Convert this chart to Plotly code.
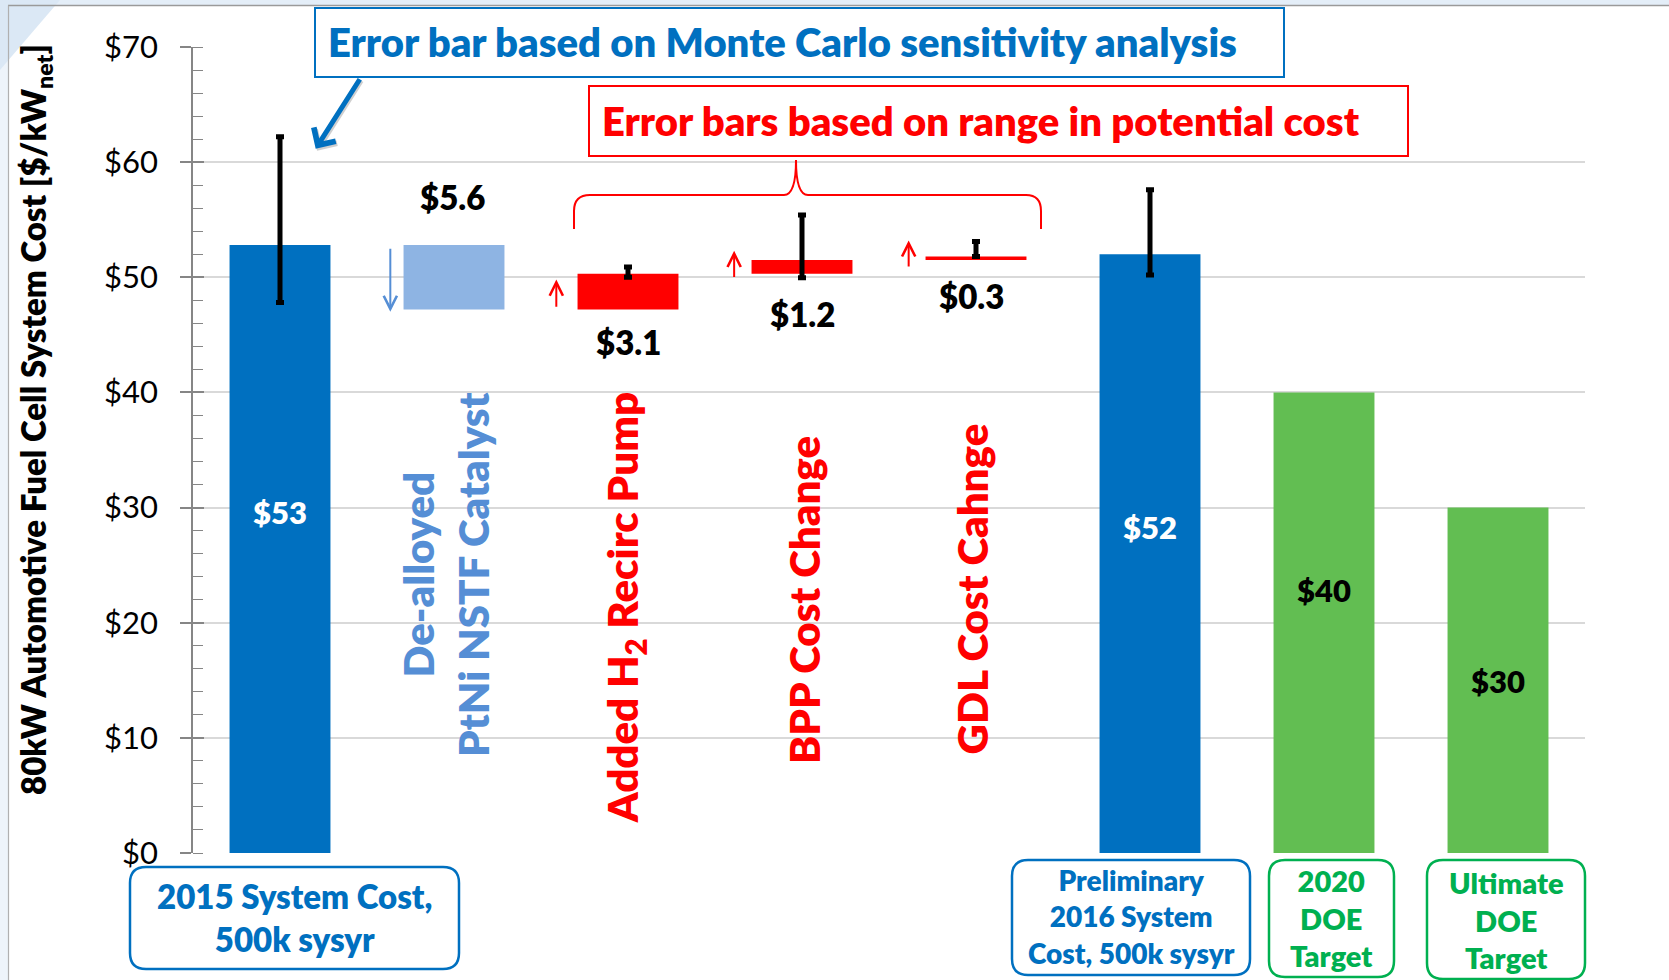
import plotly.graph_objects as go

# ---------------- data ----------------
categories = [
    "2015 System Cost, 500k sysyr",
    "De-alloyed PtNi NSTF Catalyst",
    "Added H2 Recirc Pump",
    "BPP Cost Change",
    "GDL Cost Cahnge",
    "Preliminary 2016 System Cost, 500k sysyr",
    "2020 DOE Target",
    "Ultimate DOE Target",
]
start_cost = 52.8
change_values = [-5.6, 3.1, 1.2, 0.3]
change_labels = ["$5.6", "$3.1", "$1.2", "$0.3"]
end_cost = 52.0
target_values = [40, 30]
total_labels = ["$53", "$52", "$40", "$30"]
err_index = [0, 2, 3, 4, 5]
err_low = [47.8, 50.0, 49.95, 51.8, 50.2]
err_high = [62.2, 50.9, 55.4, 53.1, 57.6]
y_ticks = [0, 10, 20, 30, 40, 50, 60, 70]
y_tick_text = ["$0", "$10", "$20", "$30", "$40", "$50", "$60", "$70"]

# ---------------- waterfall geometry from data ----------------
heights, bases = [start_cost], [0]
running = start_cost
for c in change_values:
    if c < 0:
        bases.append(running + c)
        heights.append(-c)
    else:
        bases.append(running)
        heights.append(c)
    running += c
heights += [end_cost] + target_values
bases += [0, 0, 0]
xs = list(range(len(categories)))

BLUE = "#0070C0"
LBLUE = "#8EB4E3"
LBLUE_TXT = "#558ED5"
RED = "#FF0000"
GREEN = "#62BE52"
GREEN_TXT = "#00B050"
colors = [BLUE, LBLUE, RED, RED, RED, BLUE, GREEN, GREEN]
FONT = "Lato"
WEIGHT = 800

fig = go.Figure()
fig.add_trace(go.Bar(x=xs, y=heights, base=bases, width=0.58,
                     marker=dict(color=colors, line=dict(width=0)),
                     hovertext=categories, showlegend=False))

fig.add_trace(go.Scatter(
    x=err_index, y=err_low, mode="markers",
    marker=dict(size=2, opacity=0),
    error_y=dict(type="data", symmetric=False,
                 array=[h - l for h, l in zip(err_high, err_low)],
                 arrayminus=[0] * len(err_low),
                 color="black", thickness=5, width=4),
    showlegend=False))

# invisible trace for the overlay axis (inside half of the major ticks)
fig.add_trace(go.Scatter(x=[0], y=[0], yaxis="y2", mode="markers",
                         marker=dict(opacity=0), showlegend=False, hoverinfo="skip"))

# ---------------- layout helpers (pixel -> paper) ----------------
FW, FH = 1669, 980
L, T, W, H = 193, 47, 1392, 806
def px(x):
    return (x - L) / W
def py(y):
    return (T + H - y) / H
def pt(x, y):
    return f"{px(x):.5f},{py(y):.5f}"

def rrect(x0, y0, x1, y1, r):
    return ("M" + pt(x0 + r, y0) + " L" + pt(x1 - r, y0) +
            " Q" + pt(x1, y0) + " " + pt(x1, y0 + r) +
            " L" + pt(x1, y1 - r) + " Q" + pt(x1, y1) + " " + pt(x1 - r, y1) +
            " L" + pt(x0 + r, y1) + " Q" + pt(x0, y1) + " " + pt(x0, y1 - r) +
            " L" + pt(x0, y0 + r) + " Q" + pt(x0, y0) + " " + pt(x0 + r, y0) + " Z")

shapes = []
# slide frame decoration
shapes.append(dict(type="rect", xref="paper", yref="paper", x0=px(0), x1=px(FW), y0=py(0), y1=py(5),
                   fillcolor="#e4eef8", line=dict(width=0), layer="below"))
shapes.append(dict(type="rect", xref="paper", yref="paper", x0=px(0), x1=px(8), y0=py(0), y1=py(FH),
                   fillcolor="#eef4fa", line=dict(width=0), layer="below"))
shapes.append(dict(type="path", xref="paper", yref="paper",
                   path="M" + pt(0, 0) + " L" + pt(60, 0) + " L" + pt(0, 70) + " Z",
                   fillcolor="#dbe8f5", line=dict(width=0), layer="below"))
shapes.append(dict(type="line", xref="paper", yref="paper", x0=px(8), x1=px(FW), y0=py(5.5), y1=py(5.5),
                   line=dict(color="#9a9a9a", width=1.5)))
shapes.append(dict(type="line", xref="paper", yref="paper", x0=px(8.5), x1=px(8.5), y0=py(5.5), y1=py(FH),
                   line=dict(color="#b0b0b0", width=1.2)))

# top boxes
shapes.append(dict(type="rect", xref="paper", yref="paper", x0=px(315), x1=px(1284), y0=py(8), y1=py(77),
                   fillcolor="white", line=dict(color=BLUE, width=2)))
shapes.append(dict(type="rect", xref="paper", yref="paper", x0=px(589), x1=px(1408), y0=py(86), y1=py(156),
                   fillcolor="white", line=dict(color=RED, width=2)))

# curly brace
brace = ("M" + pt(574, 229) + " L" + pt(574, 211) + " Q" + pt(574, 195) + " " + pt(590, 195) +
         " L" + pt(784, 195) + " Q" + pt(796, 195) + " " + pt(796, 160) +
         " Q" + pt(796, 195) + " " + pt(808, 195) +
         " L" + pt(1026, 195) + " Q" + pt(1041, 195) + " " + pt(1041, 211) + " L" + pt(1041, 229))
shapes.append(dict(type="path", xref="paper", yref="paper", path=brace,
                   line=dict(color=RED, width=2)))

# bottom rounded boxes
shapes.append(dict(type="path", xref="paper", yref="paper", path=rrect(130, 867, 459, 969, 16),
                   line=dict(color=BLUE, width=2.5)))
shapes.append(dict(type="path", xref="paper", yref="paper", path=rrect(1012, 860, 1250, 975, 16),
                   line=dict(color=BLUE, width=2.5)))
shapes.append(dict(type="path", xref="paper", yref="paper", path=rrect(1269, 860, 1394, 977, 16),
                   line=dict(color=GREEN_TXT, width=2.5)))
shapes.append(dict(type="path", xref="paper", yref="paper", path=rrect(1427, 860, 1585, 979, 16),
                   line=dict(color=GREEN_TXT, width=2.5)))

ann = []
def txt(x, y, text, size, color, xref="x", yref="y", angle=0, **kw):
    ann.append(dict(x=x, y=y, xref=xref, yref=yref, text=text, showarrow=False,
                    textangle=angle, xanchor="center", yanchor="middle",
                    font=dict(family=FONT, size=size, color=color, weight=WEIGHT), **kw))

# y axis title
txt(px(35), py(420), "80kW Automotive Fuel Cell System Cost [$/kW<sub>net</sub>]", 33, "black",
    xref="paper", yref="paper", angle=-90)

# box texts
txt(px(782), py(42), "Error bar based on Monte Carlo sensitivity analysis", 40, BLUE,
    xref="paper", yref="paper")
txt(px(981), py(121), "Error bars based on range in potential cost", 40, RED,
    xref="paper", yref="paper")

# totals inside bars
txt(0, 29.6, total_labels[0], 31, "white")
txt(5, 28.3, total_labels[1], 31, "white")
txt(6, 22.8, total_labels[2], 31, "black")
txt(7, 14.9, total_labels[3], 31, "black")

# change labels
txt(0.99, 57.0, change_labels[0], 33, "black")
txt(2.0, 44.4, change_labels[1], 33, "black")
txt(3.0, 46.8, change_labels[2], 33, "black")
txt(3.975, 48.4, change_labels[3], 33, "black")

# rotated category labels
txt(0.952, 24.2, "De-alloyed<br>PtNi NSTF Catalyst", 42, LBLUE_TXT, angle=-90)
txt(1.98, 21.3, "Added H<sub>2</sub> Recirc Pump", 42, RED, angle=-90)
txt(3.007, 22.0, "BPP Cost Change", 42, RED, angle=-90)
txt(3.975, 22.95, "GDL Cost Cahnge", 42, RED, angle=-90)

# bottom box texts
txt(px(294.5), py(917), "2015 System Cost,<br>500k sysyr", 33, BLUE, xref="paper", yref="paper")
txt(px(1131), py(916), "Preliminary<br>2016 System<br>Cost, 500k sysyr", 28, BLUE,
    xref="paper", yref="paper")
txt(px(1331.5), py(918), "2020<br>DOE<br>Target", 29, GREEN_TXT, xref="paper", yref="paper")
txt(px(1506), py(920), "Ultimate<br>DOE<br>Target", 29, GREEN_TXT, xref="paper", yref="paper")

# arrows
def arrow(x, y_tail, y_head, color, width=2, head=5, size=1.3, x_tail=None):
    ann.append(dict(x=x, y=y_head, ax=x if x_tail is None else x_tail, ay=y_tail,
                    xref="x", yref="y", axref="x", ayref="y", text="", showarrow=True,
                    arrowhead=head, arrowsize=size, arrowwidth=width, arrowcolor=color))

# shadow + big blue arrow from the Monte Carlo box
arrow(0.213, 67.2, 61.0, "rgba(120,120,120,0.35)", width=5, head=4, size=1.0, x_tail=0.472)
arrow(0.205, 67.33, 61.17, BLUE, width=5, head=4, size=1.0, x_tail=0.464)
arrow(0.634, 52.6, 47.0, LBLUE_TXT)
arrow(1.588, 47.3, 49.8, RED)
arrow(2.610, 49.9, 52.3, RED)
arrow(3.613, 50.8, 53.2, RED)

fig.update_layout(
    width=FW, height=FH,
    margin=dict(l=L, r=FW - L - W, t=T, b=FH - T - H),
    paper_bgcolor="white", plot_bgcolor="white",
    bargap=0.42,
    xaxis=dict(range=[-0.5, 7.5], showgrid=False, zeroline=False, showticklabels=False,
               ticks="", showline=False, fixedrange=True),
    yaxis=dict(range=[0, 70], tickvals=y_ticks, ticktext=y_tick_text,
               showgrid=True, gridcolor="#d9d9d9", gridwidth=1.5,
               zeroline=False, showline=True, linecolor="#868686", linewidth=1.5,
               ticks="outside", ticklen=11, tickcolor="#868686", tickwidth=1.5,
               ticklabelstandoff=16,
               tickfont=dict(family=FONT, size=31, color="black"),
               minor=dict(dtick=2, ticks="inside", ticklen=10, tickcolor="#868686",
                          tickwidth=1.2, showgrid=False)),
    yaxis2=dict(range=[0, 70], overlaying="y", side="left", anchor="x",
                tickvals=y_ticks, ticks="inside", ticklen=11, tickcolor="#868686",
                tickwidth=1.5, showticklabels=False, showgrid=False, zeroline=False,
                showline=False),
    shapes=shapes,
    annotations=ann,
    font=dict(family=FONT),
)

fig.write_html("out.html", config={"displayModeBar": False},
               post_script="document.body.style.margin='0';document.body.style.overflow='hidden';")
